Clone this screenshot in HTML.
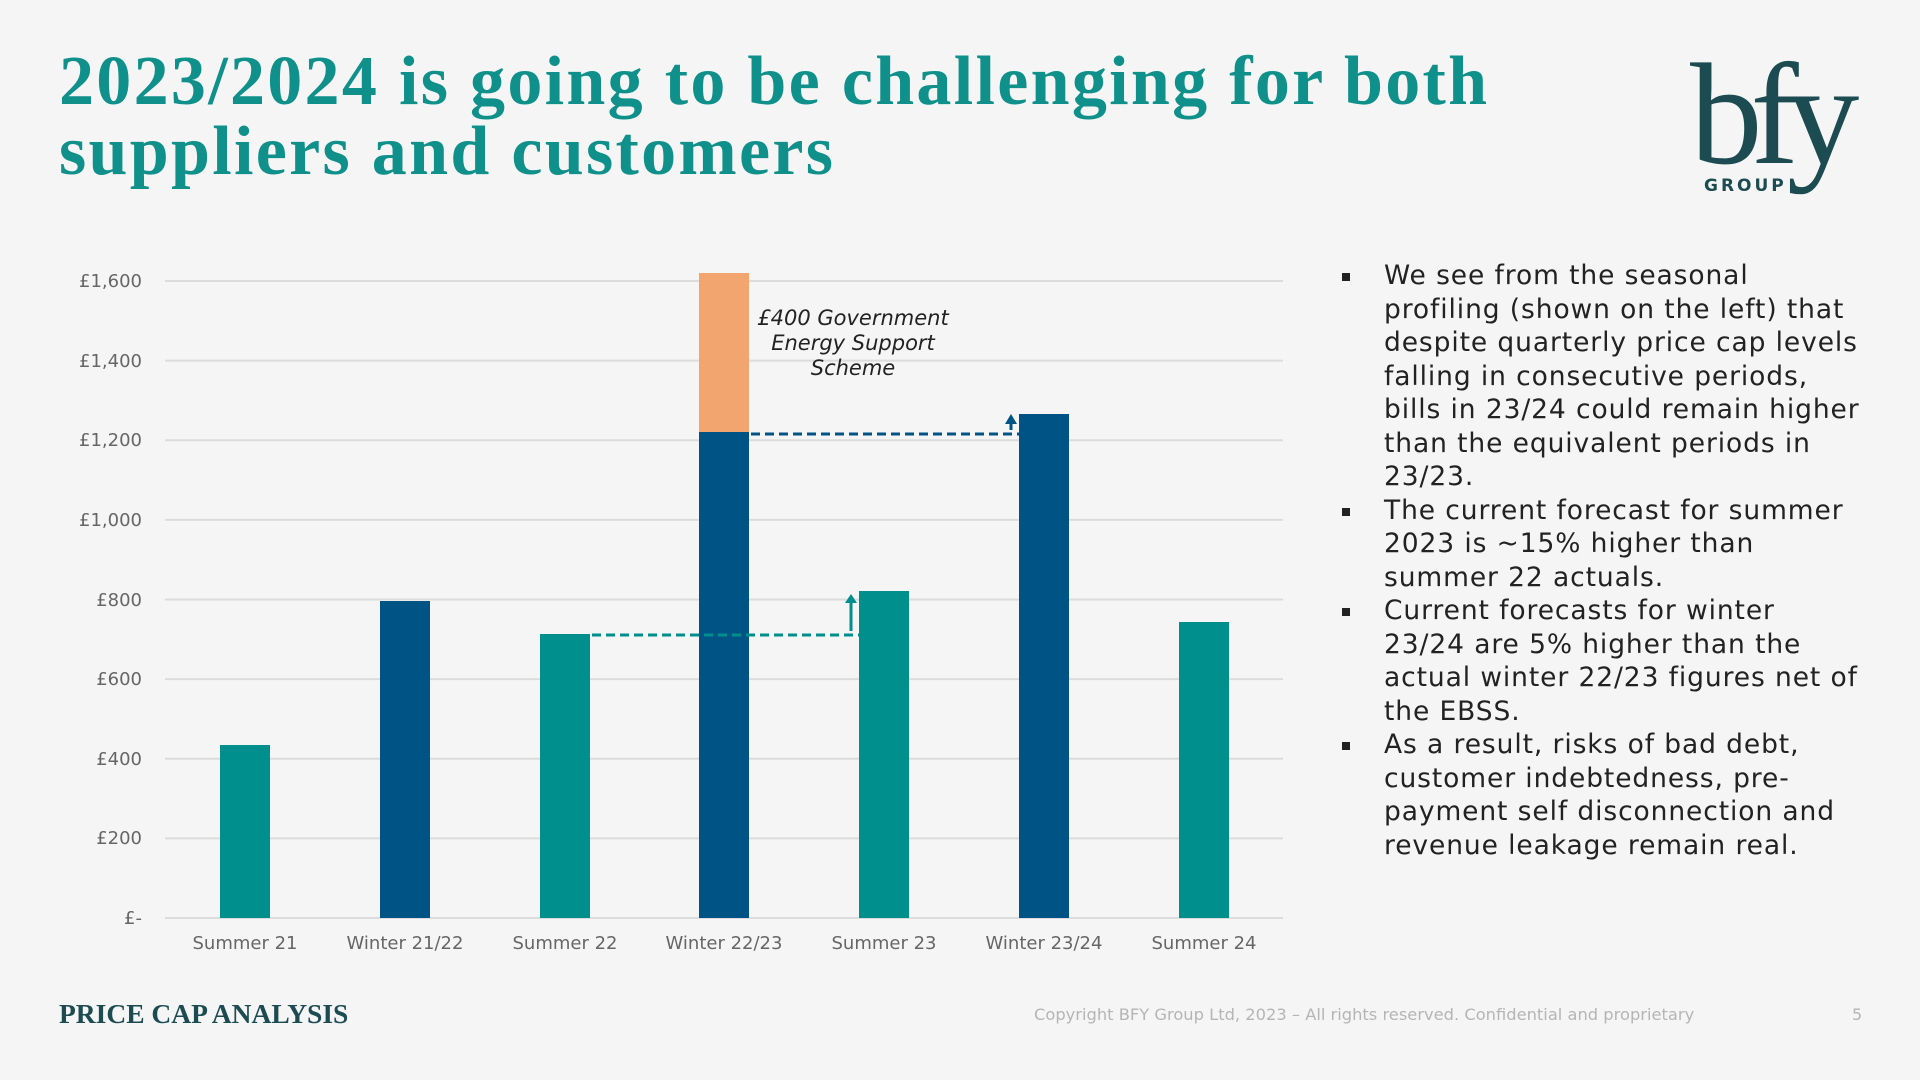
<!DOCTYPE html>
<html><head><meta charset="utf-8"><style>
body{margin:0;width:1920px;height:1080px;background:#f5f5f5;position:relative;overflow:hidden;font-family:"DejaVu Sans","Liberation Sans",sans-serif}
.t{position:absolute;left:59px;top:47px;font-family:"Liberation Serif",serif;font-weight:bold;color:#0f908b;font-size:70px;line-height:70px;letter-spacing:2.3px}
ul{position:absolute;left:1340px;top:259px;margin:0;padding:0;list-style:none;width:580px;font-size:26.5px;line-height:33.5px;color:#222;white-space:nowrap;letter-spacing:0.9px}
li{position:relative;padding-left:44px}
li:before{content:"";position:absolute;left:2px;top:14px;width:8px;height:8px;background:#222}
.f{position:absolute;left:59px;top:998px;font-family:"Liberation Serif",serif;font-weight:bold;font-size:27.5px;color:#1c4b52}
.c{position:absolute;left:1034px;top:1005px;font-size:16.3px;color:#b5b5b5}
.p{position:absolute;left:1852px;top:1005px;font-size:16px;color:#b5b5b5}
</style></head><body>
<div class="t">2023/2024 is going to be challenging for both<br>suppliers and customers</div>
<div style="position:absolute;left:1690px;top:40px;font-family:'Liberation Serif',serif;font-size:145px;color:#1c4b52;letter-spacing:-12px;line-height:150px">bfy</div>
<div style="position:absolute;left:1704px;top:176px;font-size:17px;font-weight:bold;color:#1c4b52;letter-spacing:3px">GROUP</div>
<svg width="1920" height="1080" style="position:absolute;left:0;top:0">
<g stroke="#dcdcdc" stroke-width="2">
<line x1="165" x2="1283" y1="281" y2="281"/><line x1="165" x2="1283" y1="360.6" y2="360.6"/><line x1="165" x2="1283" y1="440.3" y2="440.3"/><line x1="165" x2="1283" y1="519.9" y2="519.9"/><line x1="165" x2="1283" y1="599.5" y2="599.5"/><line x1="165" x2="1283" y1="679.1" y2="679.1"/><line x1="165" x2="1283" y1="758.8" y2="758.8"/><line x1="165" x2="1283" y1="838.4" y2="838.4"/><line x1="165" x2="1283" y1="918" y2="918"/>
</g>
<g font-size="18" fill="#666" text-anchor="end">
<text x="142" y="287">£1,600</text><text x="142" y="367">£1,400</text><text x="142" y="446">£1,200</text><text x="142" y="526">£1,000</text><text x="142" y="606">£800</text><text x="142" y="685">£600</text><text x="142" y="765">£400</text><text x="142" y="844">£200</text><text x="142" y="924">£-</text>
</g>
<g font-size="18" fill="#666" text-anchor="middle">
<text x="245" y="949">Summer 21</text><text x="405" y="949">Winter 21/22</text><text x="565" y="949">Summer 22</text><text x="724" y="949">Winter 22/23</text><text x="884" y="949">Summer 23</text><text x="1044" y="949">Winter 23/24</text><text x="1204" y="949">Summer 24</text>
</g>
<rect x="220" y="745" width="50" height="173" fill="#008f8c"/>
<rect x="380" y="601" width="50" height="317" fill="#005385"/>
<rect x="540" y="634" width="50" height="284" fill="#008f8c"/>
<rect x="699" y="273" width="50" height="159" fill="#f2a56f"/>
<rect x="699" y="432" width="50" height="486" fill="#005385"/>
<rect x="859" y="591" width="50" height="327" fill="#008f8c"/>
<rect x="1019" y="414" width="50" height="504" fill="#005385"/>
<rect x="1179" y="622" width="50" height="296" fill="#008f8c"/>
<line x1="592" x2="859" y1="635" y2="635" stroke="#008f8c" stroke-width="3" stroke-dasharray="9,5"/>
<line x1="851" x2="851" y1="631" y2="602" stroke="#008f8c" stroke-width="3"/>
<polygon points="845,603 857,603 851,594" fill="#008f8c"/>
<line x1="751" x2="1019" y1="434" y2="434" stroke="#005385" stroke-width="3" stroke-dasharray="9,5"/>
<line x1="1011" x2="1011" y1="430" y2="422" stroke="#005385" stroke-width="3"/>
<polygon points="1005,424 1017,424 1011,414" fill="#005385"/>
<g font-size="21" font-style="italic" fill="#222" text-anchor="middle">
<text x="853" y="325">£400 Government</text><text x="853" y="350">Energy Support</text><text x="853" y="375">Scheme</text>
</g>
</svg>
<ul>
<li>We see from the seasonal<br>profiling (shown on the left) that<br>despite quarterly price cap levels<br>falling in consecutive periods,<br>bills in 23/24 could remain higher<br>than the equivalent periods in<br>23/23.</li>
<li>The current forecast for summer<br>2023 is ~15% higher than<br>summer 22 actuals.</li>
<li>Current forecasts for winter<br>23/24 are 5% higher than the<br>actual winter 22/23 figures net of<br>the EBSS.</li>
<li>As a result, risks of bad debt,<br>customer indebtedness, pre-<br>payment self disconnection and<br>revenue leakage remain real.</li>
</ul>
<div class="f">PRICE CAP ANALYSIS</div>
<div class="c">Copyright BFY Group Ltd, 2023 – All rights reserved. Confidential and proprietary</div>
<div class="p">5</div>
</body></html>
